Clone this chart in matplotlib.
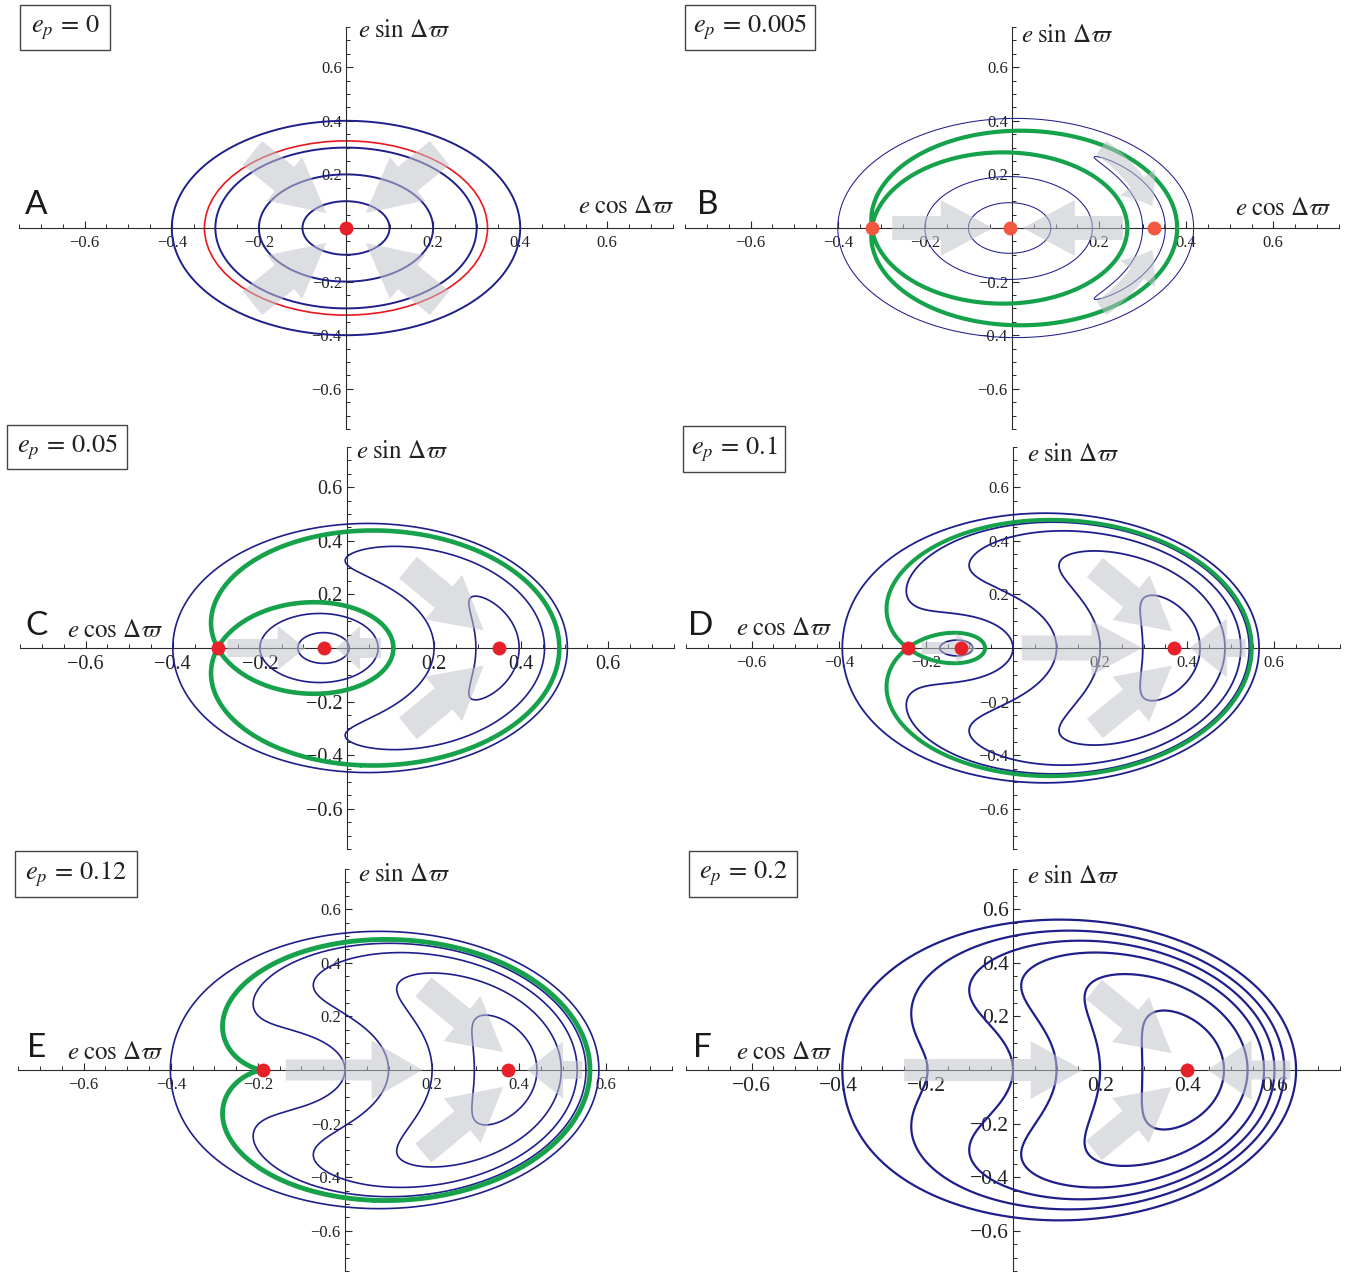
import numpy as np
import matplotlib
matplotlib.use('Agg')
import matplotlib.pyplot as plt
from matplotlib.patches import FancyArrowPatch, ArrowStyle, Rectangle, Ellipse
import contourpy

plt.rcParams['mathtext.fontset'] = 'stix'
plt.rcParams['font.family'] = ['Liberation Serif', 'DejaVu Serif']

W, H = 1350, 1273
fig = plt.figure(figsize=(W / 100, H / 100), dpi=100)

# ------------------------------------------------------------------ data
EP_LABELS = ['0', '0.005', '0.05', '0.1', '0.12', '0.2']
LETTERS = ['A', 'B', 'C', 'D', 'E', 'F']

# radius of the zero-precession (red) circle in panel A
R_RES = 0.325
# fixed points read on the e cos axis
SADDLE_X = [None, -0.322, -0.297, -0.242, -0.188, None]
CENTER_X = [None, 0.327, 0.349, 0.369, 0.375, 0.400]
F_OUTER_PAIR = (-0.392, 0.650)          # both axis crossings of F's outer curve
FIXED_POINTS = [[0.0],
                [-0.322, -0.005, 0.327],
                [-0.297, -0.052, 0.349],
                [-0.242, -0.119, 0.369],
                [-0.188, 0.375],
                [0.400]]
# each blue trajectory is given by the point where it crosses the e cos axis
BLUE_CROSSINGS = [
    [0.1, 0.2, 0.3, 0.4],
    [-0.4, -0.2, -0.1, 0.30],
    [-0.4, -0.2, -0.113, 0.2, 0.296],
    [-0.392, -0.168, 0.0, 0.1, 0.2, 0.298],
    [-0.401, 0.0, 0.1, 0.2, 0.297],
    [-0.392, -0.196, 0.0, 0.1, 0.2, 0.297],
]
HAS_SEPARATRIX = [False, True, True, True, True, False]

# grey flow arrows: tail x, tail y, tip x, tip y, shaft, head width, head length (px), curvature
ARROWS = [
    [(-0.215, 0.28, -0.045, 0.056, 31, 56, 54, 0), (0.215, 0.28, 0.045, 0.056, 31, 56, 54, 0),
     (-0.215, -0.28, -0.045, -0.056, 31, 56, 54, 0), (0.215, -0.28, 0.045, -0.056, 31, 56, 54, 0)],
    [(-0.275, 0.0, -0.044, 0.0, 24, 56, 52, 0), (0.255, 0.0, 0.025, 0.0, 24, 56, 52, 0),
     (0.205, 0.30, 0.322, 0.082, 17, 44, 28, -0.12), (0.205, -0.30, 0.322, -0.082, 17, 44, 28, 0.12)],
    [(-0.275, 0.0, -0.095, 0.0, 18, 44, 28, 0), (0.078, 0.0, -0.025, 0.0, 20, 44, 24, 0),
     (0.14, 0.30, 0.314, 0.066, 28, 58, 52, 0), (0.14, -0.30, 0.314, -0.066, 28, 58, 52, 0)],
    [(0.02, 0.0, 0.297, 0.0, 25, 55, 51, 0), (0.534, 0.0, 0.406, 0.0, 18, 59, 37, 0),
     (-0.21, 0.0, -0.085, 0.0, 12, 30, 20, 0),
     (0.188, 0.30, 0.365, 0.062, 25, 58, 53, 0), (0.188, -0.30, 0.365, -0.066, 25, 58, 53, 0)],
    [(-0.136, 0.0, 0.178, 0.0, 21, 59, 51, 0), (0.545, 0.0, 0.418, 0.0, 18, 57, 36, 0),
     (0.18, 0.31, 0.363, 0.067, 25, 58, 53, 0), (0.18, -0.31, 0.363, -0.063, 25, 58, 53, 0)],
    [(-0.25, 0.0, 0.16, 0.0, 22, 58, 52, 0), (0.637, 0.0, 0.447, 0.0, 19, 60, 44, 0),
     (0.186, 0.30, 0.364, 0.063, 25, 58, 53, 0), (0.186, -0.30, 0.364, -0.063, 25, 58, 53, 0)],
]

MAJOR_TICKS = [-0.6, -0.4, -0.2, 0.2, 0.4, 0.6]

# ------------------------------------------------------------------ layout / style
ORIGINS = [(346, 228), (1012, 228), (347, 648), (1013, 648), (345, 1070), (1013, 1070)]
SX, SY = 435.5, 268.0
LIM = 0.75
TICK_FS = [12, 12, 14.6, 12, 12, 15.5]
BLUE = '#1f1f8c'
GREEN = '#15a24a'
RED = '#e8202a'
RED_B = '#f2573f'
ARROW_COLOR = '#c2c4ca'
BLUE_LW = [1.4, 0.75, 1.2, 1.3, 1.2, 1.6]
GREEN_LW = [0, 3.0, 3.3, 2.9, 3.5, 0]

BOXES = [(20, 5, 110, 50), (685, 5, 815, 50), (7, 425, 127, 469),
         (683, 426, 785, 472), (15, 851, 137, 897), (689, 851, 797, 897)]
LETTER_POS = [(25, 214), (697, 214), (25, 635), (688, 635), (27, 1057), (693, 1057)]
XLAB_POS = [(674, 213, 'right'), (1331, 215, 'right'), (67, 637, 'left'),
            (736, 635, 'left'), (67, 1059, 'left'), (736, 1059, 'left')]
YLAB_POS = [(358, 37), (1021, 42), (356, 458), (1027, 461), (358, 881), (1027, 883)]


def fx(px):
    return px / W


def fy(py):
    return 1 - py / H


def model_params(i):
    if i == 0:
        return R_RES ** 2, 0.0
    xe = CENTER_X[i]
    if SADDLE_X[i] is not None:
        xs = SADDLE_X[i]
        c = xs * xs + xs * xe + xe * xe
    else:
        xl, xr = F_OUTER_PAIR
        c = ((xl + xr) * (xl * xl + xr * xr) - 4 * xe ** 3) / (2 * (xl + xr) - 4 * xe)
    k = 4 * xe * (xe * xe - c)
    return c, k


g = np.linspace(-LIM, LIM, 1201)
GX, GY = np.meshgrid(g, g)


def hamiltonian(x, y, c, k):
    return (x * x + y * y - c) ** 2 - k * x


def pick(lines, px, py, tol):
    return [L for L in lines if len(L) > 1 and np.min(np.hypot(L[:, 0] - px, L[:, 1] - py)) < tol]


for i in range(6):
    ox, oy = ORIGINS[i]
    left = (ox - LIM * SX) / W
    bottom = (H - (oy + LIM * SY)) / H
    ax = fig.add_axes([left, bottom, 2 * LIM * SX / W, 2 * LIM * SY / H])
    ax.set_xlim(-LIM, LIM)
    ax.set_ylim(-LIM, LIM)
    ax.patch.set_alpha(0)
    for s in ['top', 'right']:
        ax.spines[s].set_visible(False)
    for s in ['left', 'bottom']:
        ax.spines[s].set_position(('data', 0))
        ax.spines[s].set_color('#2a2a2a')
        ax.spines[s].set_linewidth(0.8)
    lbls = [f'{v:.1f}'.replace('-', '\u2212') for v in MAJOR_TICKS]
    ax.set_xticks(MAJOR_TICKS)
    ax.set_xticklabels(lbls)
    ax.set_yticks(MAJOR_TICKS)
    ax.set_yticklabels(lbls)
    minor = np.round(np.arange(-0.75, 0.7501, 0.05), 3)
    ax.set_xticks(minor, minor=True)
    ax.set_yticks(minor, minor=True)
    ax.tick_params(which='major', direction='in', length=5.0, width=0.8, color='#2a2a2a',
                   labelsize=TICK_FS[i], labelcolor='#222222')
    ax.tick_params(axis='x', which='major', pad=5)
    ax.tick_params(axis='y', which='major', pad=3)
    ax.tick_params(which='minor', direction='in', length=3.0, width=0.7, color='#2a2a2a')

    c, k = model_params(i)
    Hm = hamiltonian(GX, GY, c, k)
    gen = contourpy.contour_generator(GX, GY, Hm, line_type='Separate')

    for xc in BLUE_CROSSINGS[i]:
        lev = hamiltonian(xc, 0.0, c, k)
        for L in pick(gen.lines(lev), xc, 0.0, 0.012):
            ax.plot(L[:, 0], L[:, 1], color=BLUE, lw=BLUE_LW[i], zorder=2,
                    solid_joinstyle='round', solid_capstyle='butt')

    if HAS_SEPARATRIX[i]:
        xs = SADDLE_X[i]
        lev = hamiltonian(xs, 0.0, c, k)
        for L in pick(gen.lines(lev), xs, 0.0, 0.03):
            ax.plot(L[:, 0], L[:, 1], color=GREEN, lw=GREEN_LW[i], zorder=3,
                    solid_joinstyle='round', solid_capstyle='round')

    if i == 0:
        ax.add_patch(Ellipse((0, 0), 2 * R_RES, 2 * R_RES, fill=False, ec='#e8181e',
                             lw=1.2, zorder=2))

    for (xt, yt, xh, yh, sw, hw, hl, rad) in ARROWS[i]:
        st = ArrowStyle.Simple(head_length=hl, head_width=hw, tail_width=sw)
        p = FancyArrowPatch((xt, yt), (xh, yh), arrowstyle=st, mutation_scale=0.72,
                            connectionstyle=f'arc3,rad={rad}', shrinkA=0, shrinkB=0,
                            facecolor=ARROW_COLOR, edgecolor='none', alpha=0.55, lw=0,
                            zorder=4)
        ax.add_patch(p)

    fp = FIXED_POINTS[i]
    ax.plot(fp, np.zeros(len(fp)), 'o', ms=10, color=RED_B if i == 1 else RED,
            mec='none', zorder=6, clip_on=False)

    # box with e_p
    x0, y0, x1, y1 = BOXES[i]
    fig.patches.append(Rectangle((fx(x0), fy(y1)), fx(x1 - x0), (y1 - y0) / H,
                                 transform=fig.transFigure, fill=False,
                                 ec='#444444', lw=1.0))
    fig.text(fx((x0 + x1) / 2), fy((y0 + y1) / 2), rf'$e_p\,=\,{EP_LABELS[i]}$',
             ha='center', va='center', fontsize=19, color='#222222')

    lx, ly = LETTER_POS[i]
    fig.text(fx(lx), fy(ly), LETTERS[i], ha='left', va='baseline', fontsize=24,
             family=['Lato', 'DejaVu Sans'], color='#1a1a1a')
    xx, xy, xha = XLAB_POS[i]
    fig.text(fx(xx), fy(xy), r'$e\;\cos\,\Delta\varpi$', ha=xha, va='baseline',
             fontsize=18, color='#222222')
    yx, yy = YLAB_POS[i]
    fig.text(fx(yx), fy(yy), r'$e\;\sin\,\Delta\varpi$', ha='left', va='baseline',
             fontsize=18, color='#222222')

fig.savefig('out.png', dpi=100)
